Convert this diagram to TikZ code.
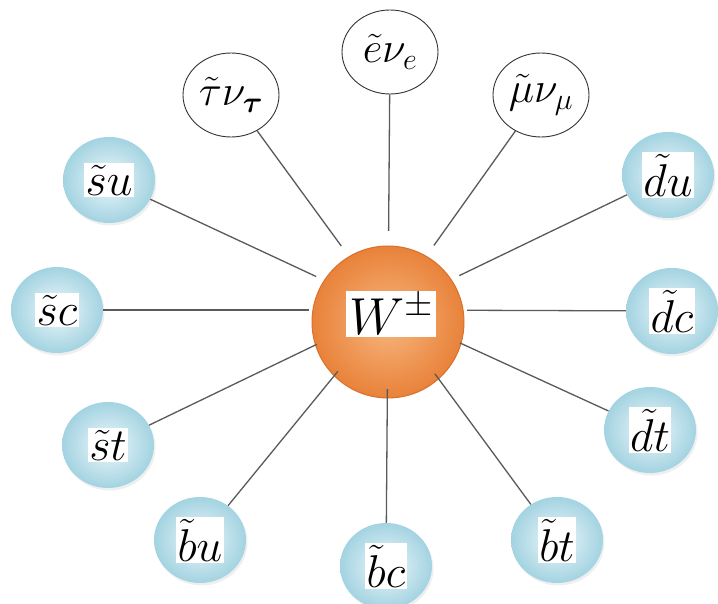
\RequirePackage{fix-cm}
\documentclass[tikz,border=0pt]{standalone}
\usepackage{amsmath}
\usetikzlibrary{shapes.geometric,shadows}
\definecolor{linec}{HTML}{5A5A5A}
\definecolor{blueIn}{HTML}{EEF8FB}
\definecolor{blueOut}{HTML}{A3D3E1}
\definecolor{orIn}{HTML}{F8B67E}
\definecolor{orOut}{HTML}{E8823A}
\definecolor{orEdge}{HTML}{D9712A}
\newcommand\labbox[1]{{\setlength\fboxsep{1.5pt}\colorbox{white}{#1}}}
\begin{document}
\begin{tikzpicture}[x=1pt,y=-1pt,
  conn/.style={draw=linec, line width=1.3pt},
  bluenode/.style={ellipse, minimum width=92pt, minimum height=86pt, inner sep=0pt,
    shading=radial, inner color=blueIn, outer color=blueOut,
    drop shadow={opacity=0.12, shadow xshift=1.5pt, shadow yshift=-2.5pt}},
  whitenode/.style={ellipse, draw=black!80, line width=0.9pt, fill=white,
    minimum width=96pt, minimum height=84pt, inner sep=0pt},
  lab/.style={font=\fontsize{46}{48}\selectfont},
  wlab/.style={font=\fontsize{43}{45}\selectfont},
  hubstyle/.style={circle, minimum size=158pt, inner sep=0pt}
]
\useasboundingbox (0,0) rectangle (718,604);
\fill[white] (0,0) rectangle (718,604);

% centre
\node[circle, minimum size=152pt, inner sep=0pt, shading=radial, inner color=orIn,
  outer color=orOut, draw=orEdge, line width=1pt] (W) at (388,322) {};
\node[fill=white, inner sep=3pt, font=\fontsize{52}{54}\selectfont] (Wt) at (391,314) {$W^{\pm}$};
\node[hubstyle] (hub) at (388,310) {};

% leptons
\node[whitenode, wlab] (tau) at (231,95) {$\tilde{\tau}\nu_{\boldsymbol{\tau}}$};
\node[whitenode, wlab] (e) at (390,52) {$\tilde{e}\nu_{e}$};
\node[whitenode, wlab] (mu) at (541,95) {$\tilde{\mu}\nu_{\mu}$};

% squarks
\node[bluenode, lab] (su) at (109,180) {\labbox{$\tilde{s}u$}};
\node[bluenode, lab] (sc) at (57,310) {\labbox{$\tilde{s}c$}};
\node[bluenode, lab] (st) at (108,445) {\labbox{$\tilde{s}t$}};
\node[bluenode, lab] (bu) at (200,540) {\labbox{$\tilde{b}u$}};
\node[bluenode, lab] (bc) at (386,566) {\labbox{$\tilde{b}c$}};
\node[bluenode, lab] (bt) at (557,540) {\labbox{$\tilde{b}t$}};
\node[bluenode, lab] (dt) at (650,430) {\labbox{$\tilde{d}t$}};
\node[bluenode, lab] (dc) at (672,311) {\labbox{$\tilde{d}c$}};
\node[bluenode, lab] (du) at (668,175) {\labbox{$\tilde{d}u$}};

% connectors
\foreach \n in {tau,e,mu,su,sc,st,bu,bc,bt,dt,dc,du}
  \draw[conn] (\n) -- (hub);
\end{tikzpicture}
\end{document}
